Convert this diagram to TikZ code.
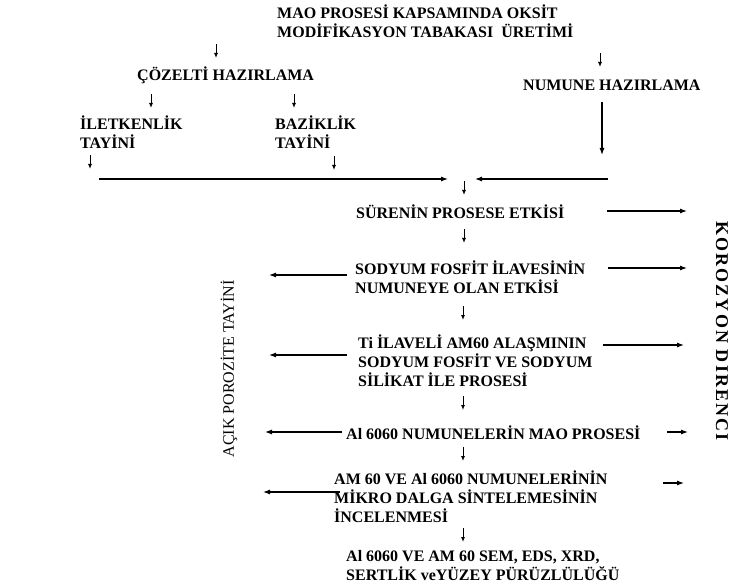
\documentclass[tikz,border=0pt]{standalone}
\usepackage{fontspec}
\setmainfont{Liberation Serif}
\usetikzlibrary{arrows.meta}
\begin{document}
\begin{tikzpicture}[x=1pt,y=-1pt,
  txt/.style={font=\fontsize{16}{19}\selectfont\bfseries, inner sep=0pt, anchor=west, align=left},
  arr/.style={line width=1.1pt, -{Latex[length=7pt,width=5pt]}},
  sarr/.style={line width=0.9pt, -{Latex[length=5pt,width=4pt]}}]
\useasboundingbox (0,0) rectangle (731,588);
% text nodes
\node[txt] (title) at (277,21.5) {MAO PROSESİ KAPSAMINDA OKSİT\\MODİFİKASYON TABAKASI\ \ ÜRETİMİ};
\node[txt] (coz) at (137,75) {ÇÖZELTİ HAZIRLAMA};
\node[txt] (num) at (523,85) {NUMUNE HAZIRLAMA};
\node[txt] (ilet) at (80,132.5) {İLETKENLİK\\TAYİNİ};
\node[txt] (baz) at (275,132.5) {BAZİKLİK\\TAYİNİ};
\node[txt] (sure) at (356,212) {SÜRENİN PROSESE ETKİSİ};
\node[txt] (sod) at (355,277.5) {SODYUM FOSFİT İLAVESİNİN\\NUMUNEYE OLAN ETKİSİ};
\node[txt] (ti) at (358,361) {Ti İLAVELİ AM60 ALAŞMININ\\SODYUM FOSFİT VE SODYUM\\SİLİKAT İLE PROSESİ};
\node[txt] (al) at (346,433) {Al 6060 NUMUNELERİN MAO PROSESİ};
\node[txt] (am) at (334,497) {AM 60 VE Al 6060 NUMUNELERİNİN\\MİKRO DALGA SİNTELEMESİNİN\\İNCELENMESİ};
\node[txt] (son) at (346,565.5) {Al 6060 VE AM 60 SEM, EDS, XRD,\\SERTLİK veYÜZEY PÜRÜZLÜLÜĞÜ};
\node[font=\fontsize{16}{19}\selectfont, inner sep=0pt, rotate=90] (acik) at (229,369) {AÇIK POROZİTE TAYİNİ};
\node[font=\fontsize{18}{21}\selectfont\bfseries\addfontfeatures{LetterSpace=12}, inner sep=0pt, rotate=-90] (kor) at (722,331) {KOROZYON DIRENCI};
% small down arrows
\draw[sarr] (216,44) -- (216,58);
\draw[sarr] (600,53) -- (600,67);
\draw[sarr] (151,94) -- (151,108);
\draw[sarr] (294,94) -- (294,108);
\draw[sarr] (90,155) -- (90,169);
\draw[sarr] (334,156) -- (334,170);
\draw[sarr] (464,181) -- (464,195);
\draw[sarr] (464,229) -- (464,243);
\draw[sarr] (463,306) -- (463,320);
\draw[sarr] (463,396) -- (463,410);
\draw[sarr] (463,447) -- (463,461);
\draw[sarr] (463,528) -- (463,542);
% main arrows
\draw[arr] (99,179) -- (448,179);
\draw[arr] (602,102) -- (602,155);
\draw[arr] (608,179) -- (475,179);
\draw[arr] (607,211) -- (687,211);
\draw[arr] (608,268) -- (687,268);
\draw[arr] (347,275) -- (269,275);
\draw[arr] (603,345) -- (684,345);
\draw[arr] (347,355) -- (269,355);
\draw[arr] (342,432) -- (265,432);
\draw[arr] (667,432) -- (688,432);
\draw[arr] (340,492) -- (263,492);
\draw[arr] (663,483) -- (684,483);
\end{tikzpicture}
\end{document}
